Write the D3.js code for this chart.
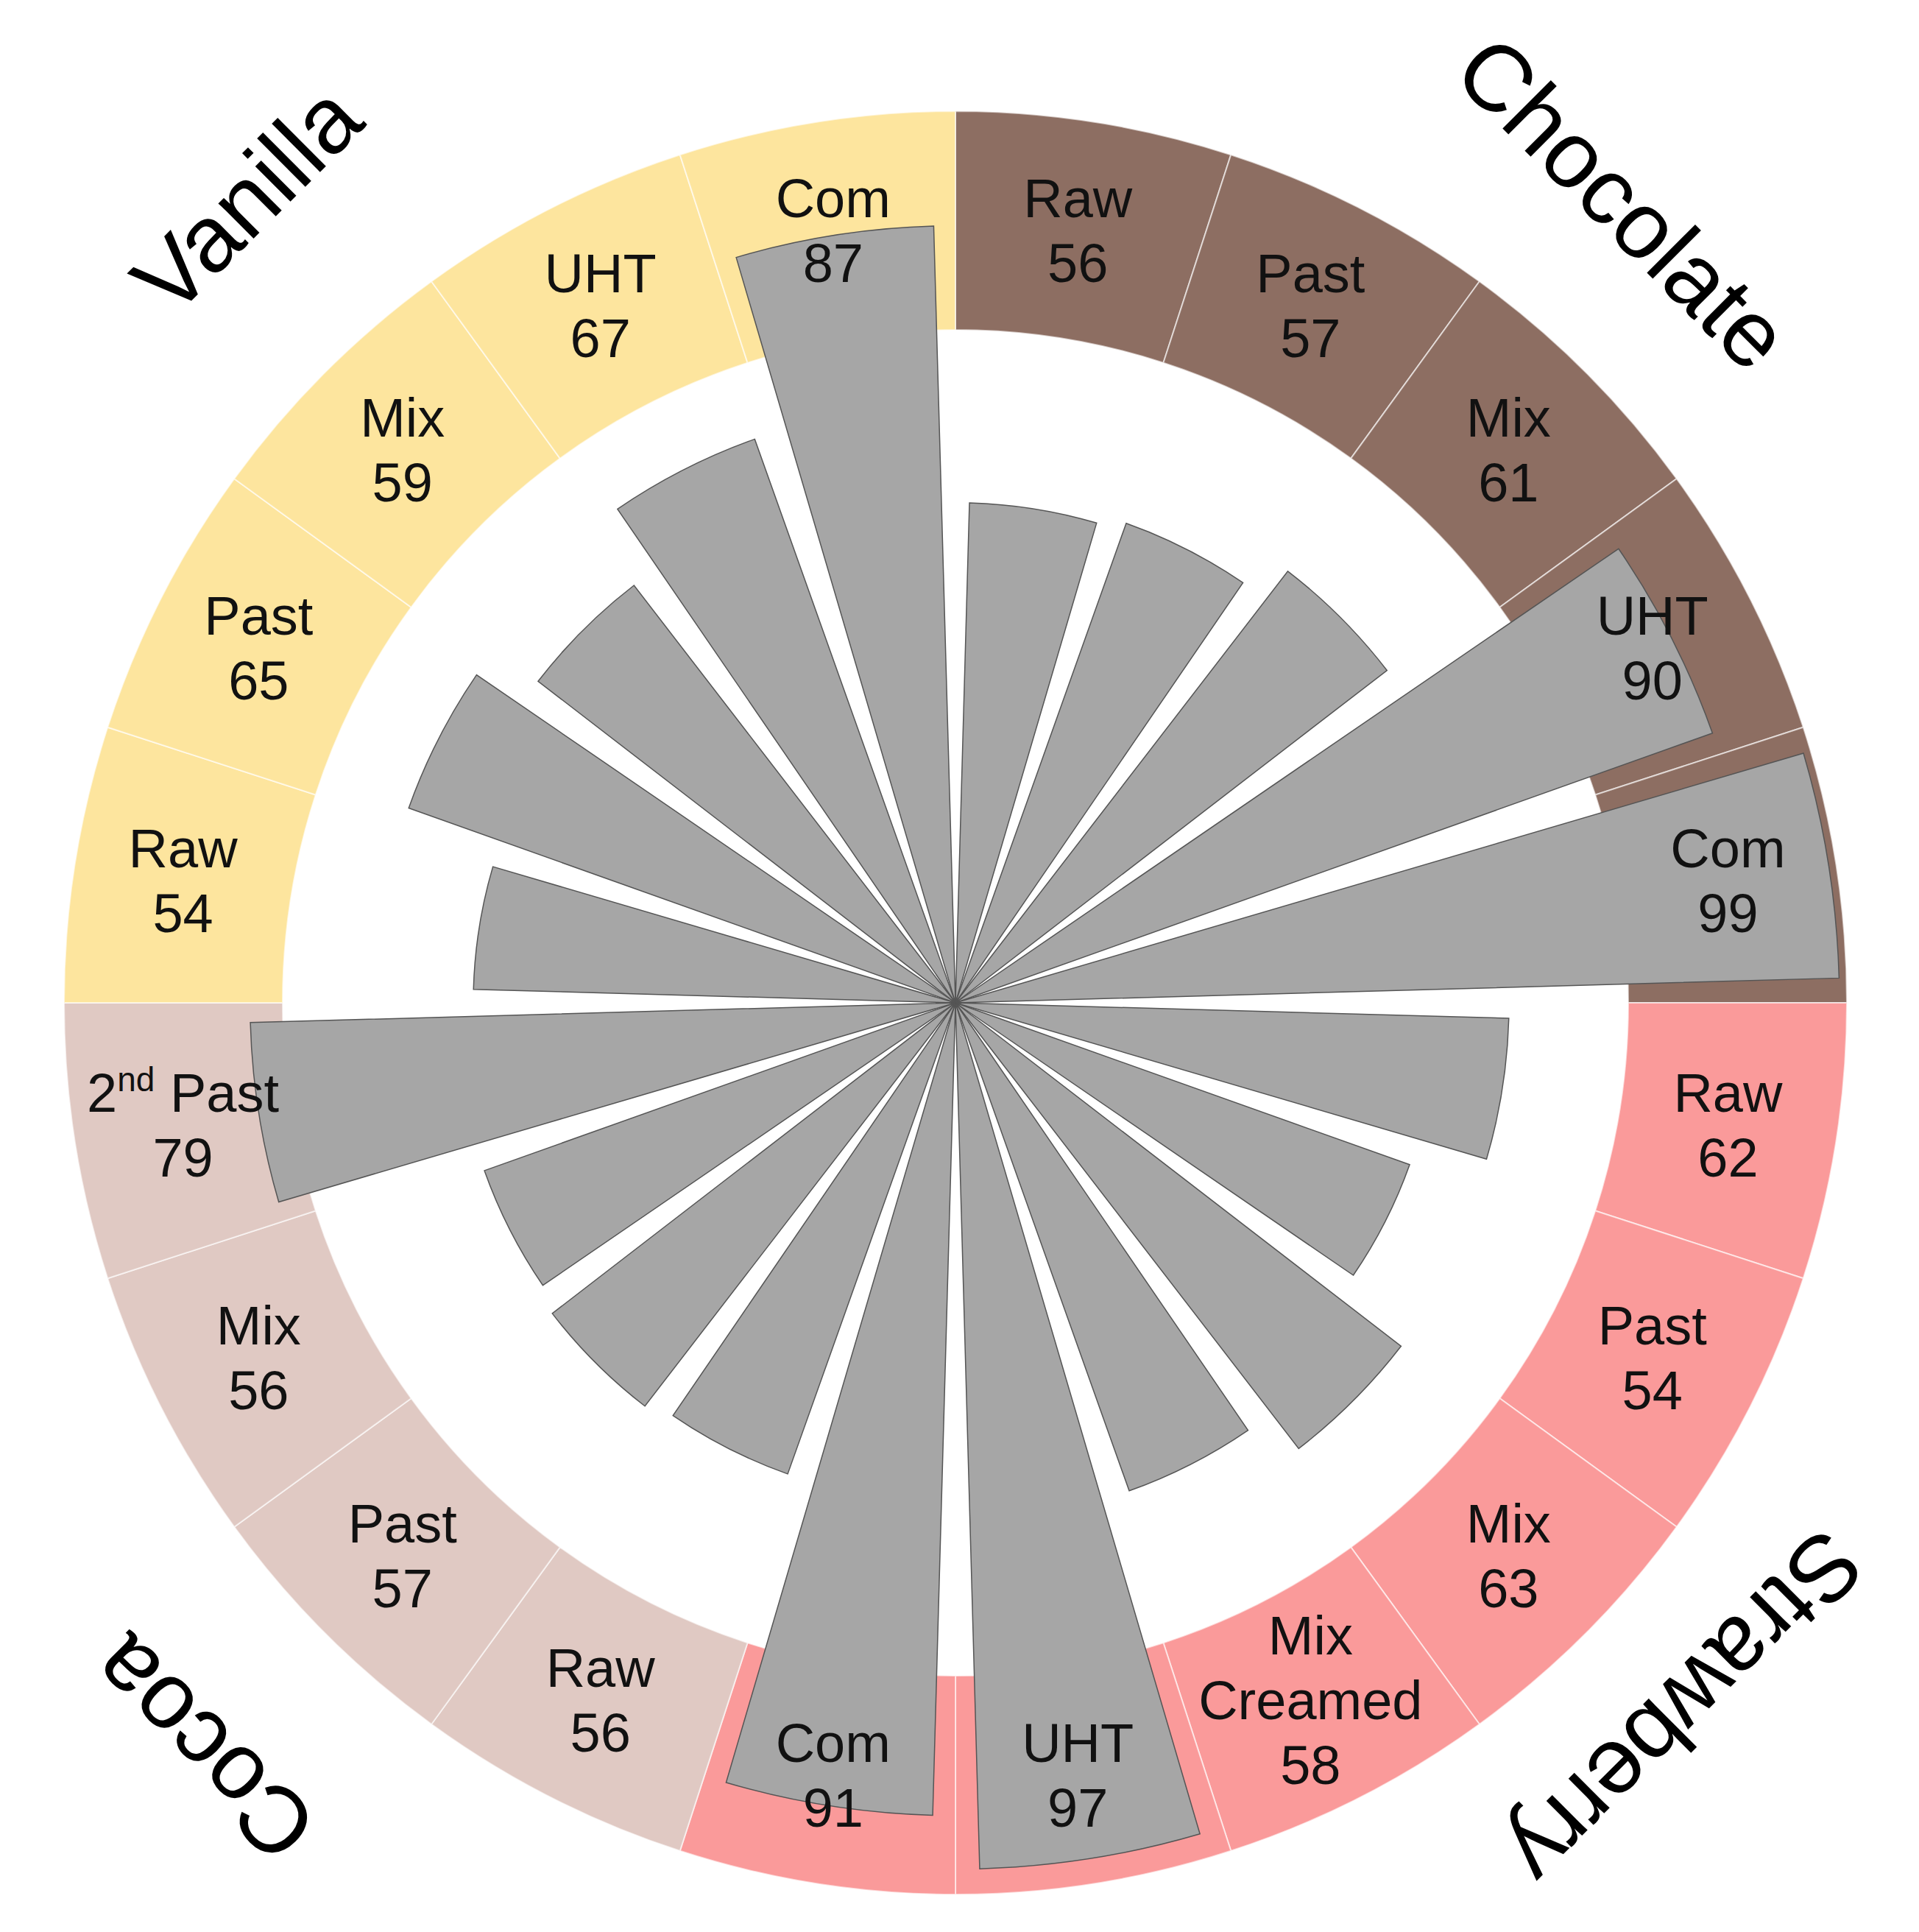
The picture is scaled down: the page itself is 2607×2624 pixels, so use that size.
<!DOCTYPE html>
<html><head><meta charset="utf-8">
<script src="https://cdn.jsdelivr.net/npm/d3@7"></script>
<style>body{margin:0;background:#fff}text{font-family:"Liberation Sans",Arial,sans-serif}</style>
</head><body><div id="chart"></div>
<script>
// segments clockwise from 12 o'clock
var groups = ['Chocolate','Chocolate','Chocolate','Chocolate','Chocolate',
  'Strawberry','Strawberry','Strawberry','Strawberry','Strawberry','Strawberry',
  'Cocoa','Cocoa','Cocoa','Cocoa',
  'Vanilla','Vanilla','Vanilla','Vanilla','Vanilla'];
var names = ['Raw','Past','Mix','UHT','Com',
  'Raw','Past','Mix','Mix|Creamed','UHT','Com',
  'Raw','Past','Mix','2nd Past',
  'Raw','Past','Mix','UHT','Com'];
var values = [56,57,61,90,99, 62,54,63,58,97,91, 56,57,56,79, 54,65,59,67,87];
var groupNames = ['Chocolate','Strawberry','Cocoa','Vanilla'];
var groupColors = ['#8d6e62','#fa9a9a','#e0c9c3','#fde59e'];

var w = 2607, h = 2624, cx = 1298, cy = 1362,
    rOuter = 1211, rInner = 914;

var svg = d3.select('#chart').append('svg').attr('width', w).attr('height', h);
var g = svg.append('g').attr('transform', 'translate(' + cx + ',' + cy + ')');

var angle = d3.scaleBand().domain(d3.range(values.length)).range([0, 2 * Math.PI]);
var radius = d3.scaleLinear().domain([0, 100]).range([0, 1213]);
var color = d3.scaleOrdinal().domain(groupNames).range(groupColors);

var ringArc = d3.arc().innerRadius(rInner).outerRadius(rOuter)
  .startAngle(function(d, i){ return angle(i); })
  .endAngle(function(d, i){ return angle(i) + angle.bandwidth(); });

g.selectAll('path.ring').data(values).enter().append('path')
  .attr('class', 'ring')
  .attr('d', ringArc)
  .attr('fill', function(d, i){ return color(groups[i]); })
  .attr('stroke', '#ffffff').attr('stroke-width', 2).attr('stroke-opacity', 0.6);

var pad = 0.028;
var barArc = d3.arc().innerRadius(0)
  .outerRadius(function(d){ return radius(d); })
  .startAngle(function(d, i){ return angle(i) + pad; })
  .endAngle(function(d, i){ return angle(i) + angle.bandwidth() - pad; });

g.selectAll('path.bar').data(values).enter().append('path')
  .attr('class', 'bar')
  .attr('d', barArc)
  .attr('fill', '#a6a6a6')
  .attr('stroke', '#555').attr('stroke-width', 1.5);

// segment labels
var rLabel = (rInner + rOuter) / 2;
values.forEach(function(v, i){
  var a = angle(i) + angle.bandwidth() / 2,
      x = rLabel * Math.sin(a), y = -rLabel * Math.cos(a);
  var lines = names[i].split('|').concat([String(v)]);
  var t = g.append('text').attr('text-anchor', 'middle').attr('font-size', 74).attr('fill', '#111');
  var y0 = y - (lines.length - 1) * 88 / 2 + 26;
  lines.forEach(function(s, k){
    var ts = t.append('tspan').attr('x', x).attr('y', y0 + k * 88);
    if (s === '2nd Past') {
      ts.text('2');
      ts.append('tspan').attr('font-size', 46).attr('dy', -28).text('nd');
      ts.append('tspan').attr('dy', 28).text(' Past');
    } else ts.text(s);
  });
});

// group titles
var titles = [
  {name: 'Chocolate', x: 2205, y: 275, rot: 45},
  {name: 'Strawberry', x: 2290, y: 2320, rot: 135},
  {name: 'Cocoa', x: 275, y: 2375, rot: 225},
  {name: 'Vanilla', x: 335, y: 270, rot: -45}
];
svg.selectAll('text.title').data(titles).enter().append('text')
  .attr('class', 'title')
  .attr('text-anchor', 'middle')
  .attr('font-size', 128)
  .attr('fill', '#000')
  .attr('transform', function(d){ return 'translate(' + d.x + ',' + d.y + ') rotate(' + d.rot + ')'; })
  .attr('dy', '0.35em')
  .text(function(d){ return d.name; });
</script></body></html>
